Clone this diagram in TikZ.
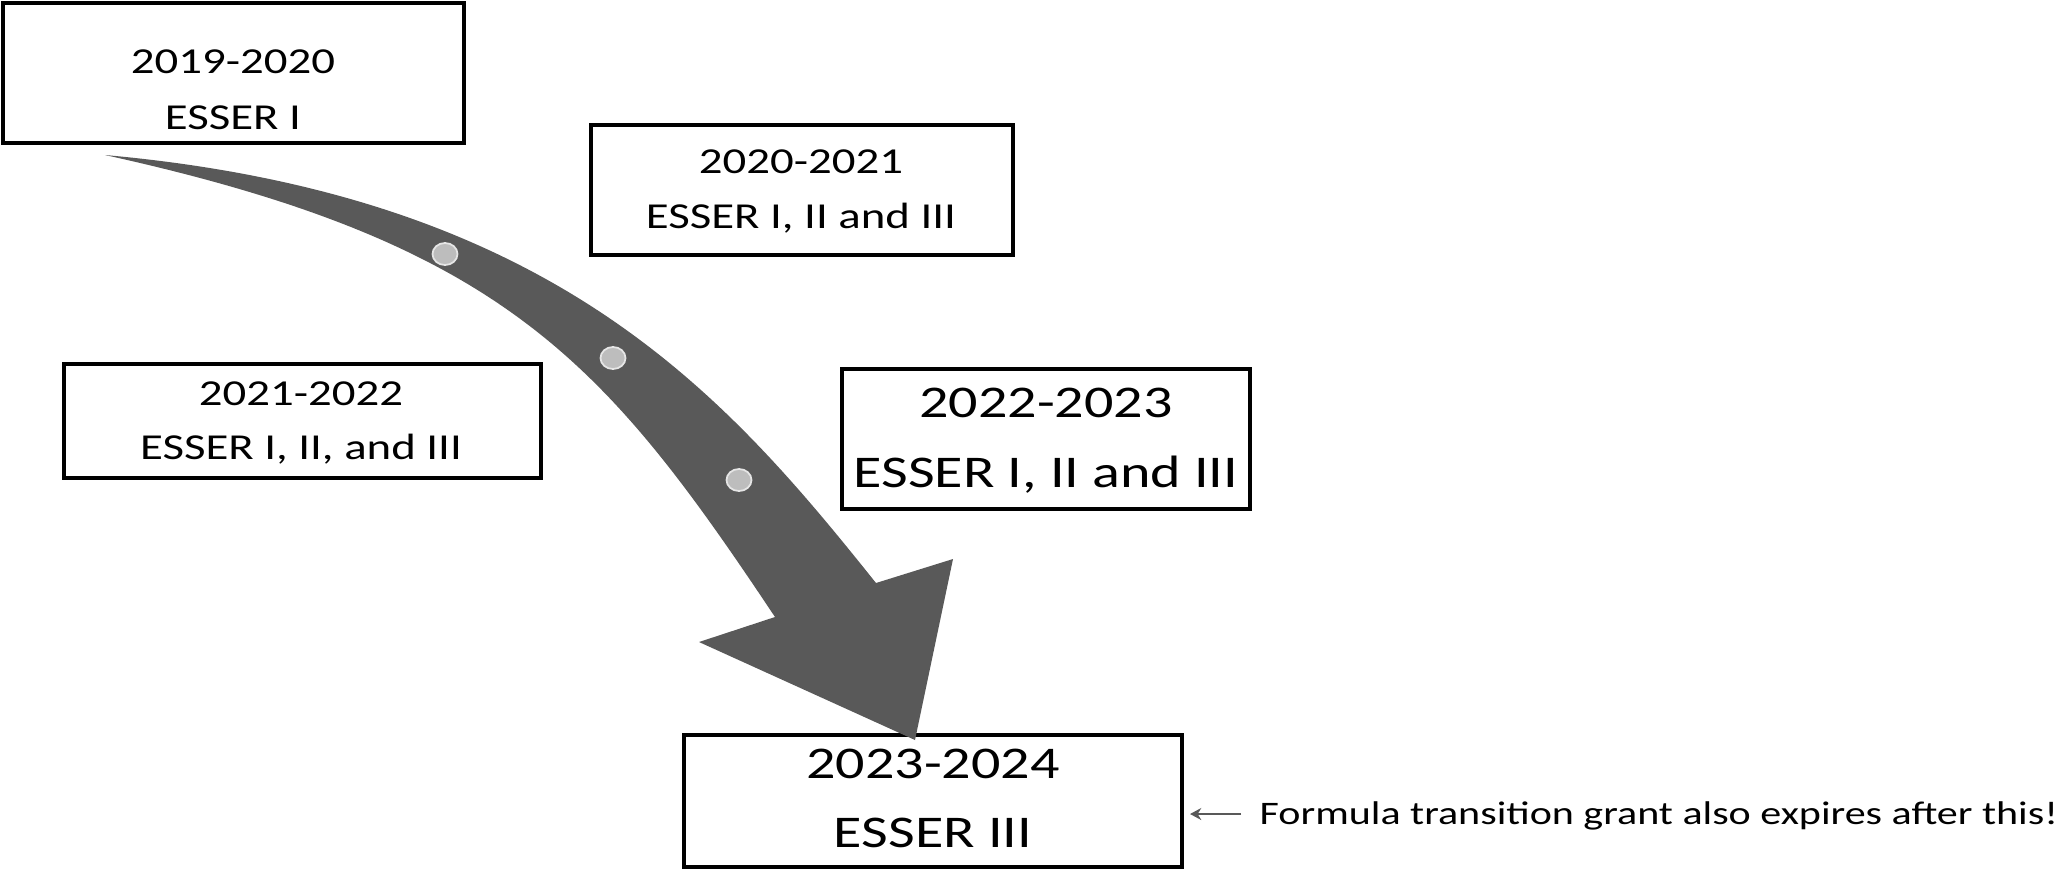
\documentclass[tikz,border=0pt]{standalone}
\usepackage{fontspec}
\newfontfamily\carl[FakeStretch=1.28]{Carlito}
\usetikzlibrary{arrows.meta,shapes.geometric}
\definecolor{arrowgray}{HTML}{595959}
\definecolor{dotfill}{HTML}{BDBDBD}
\definecolor{dotline}{HTML}{E6E6E6}
\tikzset{
  yearbox/.style={draw=black, line width=1.25pt, fill=white, rectangle, inner sep=0pt},
  lbl/.style={anchor=base, inner sep=0pt, font=\carl\fontsize{10.4}{12}\selectfont},
  biglbl/.style={anchor=base, inner sep=0pt, font=\carl\fontsize{12.9}{15}\selectfont},
  notelbl/.style={anchor=base west, inner sep=0pt, font=\carl\fontsize{9.34}{11}\selectfont},
  stop/.style={ellipse, fill=dotfill, draw=dotline, line width=0.5pt, minimum width=0.25cm, minimum height=0.22cm, inner sep=0pt},
  note/.style={draw=arrowgray, line width=0.6pt, -{Stealth[length=3.2pt,width=3.4pt]}},
}
\begin{document}
\begin{tikzpicture}[x=0.01cm, y=-0.01cm]
\useasboundingbox (0,0) rectangle (2070,869);

% boxes
\node[yearbox, minimum width=4.61cm, minimum height=1.40cm] (b1) at (233.5,73) {};
\node[yearbox, minimum width=4.22cm, minimum height=1.30cm] (b2) at (802,190) {};
\node[yearbox, minimum width=4.77cm, minimum height=1.14cm] (b3) at (302.5,421) {};
\node[yearbox, minimum width=4.08cm, minimum height=1.40cm] (b4) at (1046,439) {};
\node[yearbox, minimum width=4.98cm, minimum height=1.32cm] (b5) at (933,801) {};

% big curved arrow
\coordinate (tail) at (105,155);
\coordinate (headR) at (876,583);
\coordinate (barbR) at (953,559);
\coordinate (tip) at (915,740);
\coordinate (barbL) at (699,642);
\coordinate (headL) at (775,617);
\fill[arrowgray] (tail) .. controls (555,195.5) and (726,395.5) .. (headR)
  -- (barbR) -- (tip) -- (barbL) -- (headL)
  .. controls (605,362) and (505,243) .. (tail) -- cycle;

\node[stop] (d1) at (445,254) {};
\node[stop] (d2) at (613,358) {};
\node[stop] (d3) at (739,480) {};

% texts
\node[lbl] (t1a) at (233,73) {2019-2020};
\node[lbl] (t1b) at (233,129) {ESSER I};
\node[lbl] (t2a) at (801,173) {2020-2021};
\node[lbl] (t2b) at (801,228) {ESSER I, II and III};
\node[lbl] (t3a) at (301,405) {2021-2022};
\node[lbl] (t3b) at (301,459) {ESSER I, II, and III};
\node[biglbl] (t4a) at (1046,417) {2022-2023};
\node[biglbl] (t4b) at (1046,487) {ESSER I, II and III};
\node[biglbl] (t5a) at (933,778) {2023-2024};
\node[biglbl] (t5b) at (933,847) {ESSER III};

% note
\node[notelbl] (n) at (1259,824) {Formula transition grant also expires after this!};
\coordinate (ntail) at (1241,814);
\coordinate (ntip) at (1190,814);
\draw[note] (ntail) -- (ntip);
\end{tikzpicture}
\end{document}
